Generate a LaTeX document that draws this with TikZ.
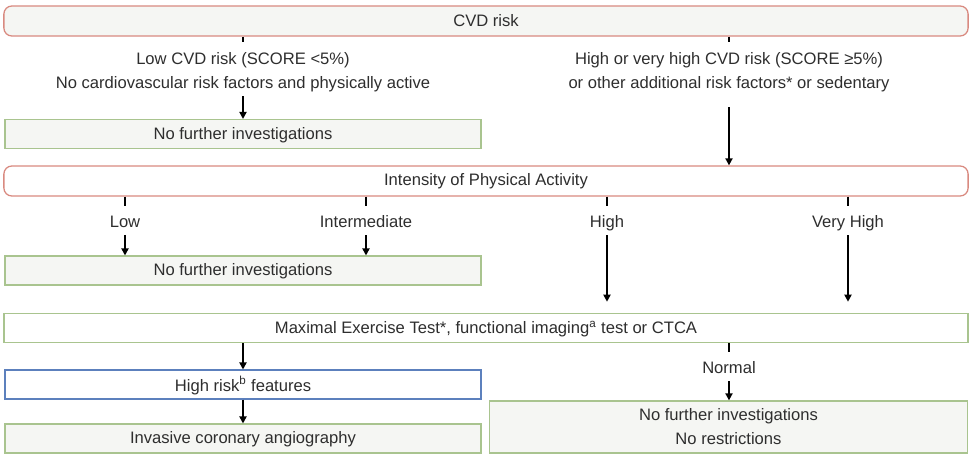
\documentclass[tikz,border=0pt]{standalone}
\usepackage{fontspec}
\setmainfont{Liberation Sans}
\usetikzlibrary{arrows.meta,positioning,calc}

\definecolor{cvdred}{HTML}{D98A80}
\definecolor{boxgreen}{HTML}{A9C48F}
\definecolor{boxblue}{HTML}{5C80BD}
\definecolor{boxfill}{HTML}{F5F6F3}
\definecolor{inkgrey}{HTML}{2E2E2E}

\begin{document}
\begin{tikzpicture}[
    x=0.025cm, y=-0.025cm,
    >={Triangle[length=5pt,width=5pt]},
    every node/.style={text=inkgrey},
    font=\fontsize{11.8}{17.5}\selectfont,
    redbox/.style={draw=cvdred, line width=0.9pt, rounded corners=2mm, align=center, minimum height=0.75cm, minimum width=24.1cm, inner sep=2pt},
    greenbox/.style={draw=boxgreen, line width=0.9pt, align=center, minimum height=0.72cm, minimum width=11.9cm, inner sep=2pt, text depth=1pt},
    bluebox/.style={draw=boxblue, line width=0.9pt, align=center, minimum height=0.72cm, minimum width=11.9cm, inner sep=2pt, text depth=1pt},
    branch/.style={align=center, inner sep=2pt, text depth=3pt},
    stub/.style={line width=1.3pt, shorten >=5pt},
    arrow/.style={->, line width=1.3pt}
]
\useasboundingbox (0,0) rectangle (976,460);

% first row: overall risk
\node[redbox, fill=boxfill] (cvd) at (486,21) {CVD risk};
\node[branch] (lowcvd) at (243,72.5) {Low CVD risk (SCORE <5\%)\\No cardiovascular risk factors and physically active};
\node[branch] (highcvd) at (729,72.5) {High or very high CVD risk (SCORE ≥5\%)\\or other additional risk factors* or sedentary};
\node[greenbox, fill=boxfill] (nofurthera) at (243,134) {No further investigations};

% second row: activity level
\node[redbox, fill=white] (intensity) at (486,181) {Intensity of Physical Activity};
\node[branch] (low) at (125,224) {Low};
\node[branch] (inter) at (366,224) {Intermediate};
\node[branch] (high) at (607,224) {High};
\node[branch] (vhigh) at (848,224) {Very High};
\node[greenbox, fill=boxfill] (nofurtherb) at (243,270.5) {No further investigations};

% third row: testing
\node[greenbox, fill=white, minimum width=24.1cm] (maxtest) at (486,328) {Maximal Exercise Test*, functional imaging\textsuperscript{a} test or CTCA};
\node[bluebox, fill=white] (highrisk) at (243,384.5) {High risk\textsuperscript{b} features};
\node[greenbox, fill=boxfill] (ica) at (243,438.5) {Invasive coronary angiography};
\node[branch] (normal) at (729,370) {Normal};
\node[greenbox, fill=boxfill, minimum width=11.95cm, minimum height=1.3cm] (nofurtherc) at (728.5,427) {No further investigations\\No restrictions};

\draw[stub] (cvd.south -| lowcvd) -- (lowcvd.north);
\draw[stub] (cvd.south -| highcvd) -- (highcvd.north);
\draw[arrow] (lowcvd.south) -- (nofurthera.north);
\draw[arrow, shorten <=8pt] (highcvd.south) -- (intensity.north -| highcvd);

\draw[stub] (intensity.south -| low) -- (low.north);
\draw[stub] (intensity.south -| inter) -- (inter.north);
\draw[stub] (intensity.south -| high) -- (high.north);
\draw[stub] (intensity.south -| vhigh) -- (vhigh.north);
\draw[arrow] (low.south) -- (nofurtherb.north -| low);
\draw[arrow] (inter.south) -- (nofurtherb.north -| inter);
\draw[arrow, shorten >=8pt] (high.south) -- (maxtest.north -| high);
\draw[arrow, shorten >=8pt] (vhigh.south) -- (maxtest.north -| vhigh);

\draw[arrow] (maxtest.south -| highrisk) -- (highrisk.north);
\draw[arrow] (highrisk.south) -- (ica.north);
\draw[stub] (maxtest.south -| normal) -- (normal.north);
\draw[arrow] (normal.south) -- (nofurtherc.north -| normal);
\end{tikzpicture}
\end{document}
